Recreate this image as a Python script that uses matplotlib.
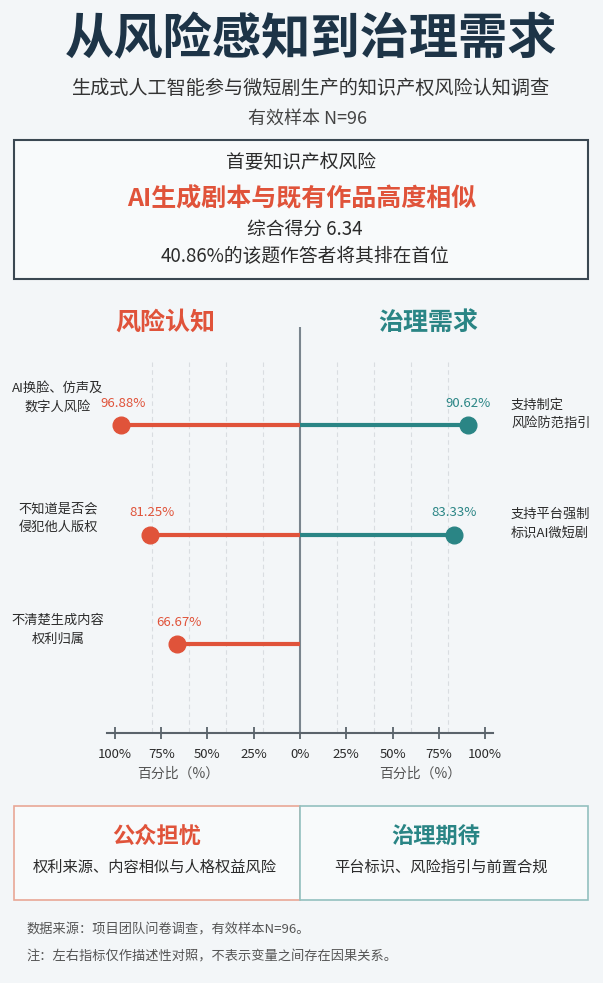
import matplotlib
matplotlib.use('Agg')
import matplotlib.pyplot as plt
import matplotlib.patches as patches
import matplotlib.transforms as mtransforms
import numpy as np

plt.rcParams['font.family'] = ['Noto Sans CJK SC', 'DejaVu Sans']
plt.rcParams['axes.unicode_minus'] = False

# data
risk_labels = ['AI换脸、仿声及\n数字人风险', '不知道是否会\n侵犯他人版权', '不清楚生成内容\n权利归属']
risk_values = [96.88, 81.25, 66.67]
gov_labels = ['支持制定\n风险防范指引', '支持平台强制\n标识AI微短剧']
gov_values = [90.62, 83.33]
tick_values = [-100, -75, -50, -25, 0, 25, 50, 75, 100]
grid_values = [-80, -60, -40, -20, 20, 40, 60, 80]

RED = '#e0533a'
TEAL = '#2a8585'
NAVY = '#1d3447'
BG = '#f3f6f8'
TXT = '#2b2b2b'

W, H = 603, 983
fig = plt.figure(figsize=(W / 100, H / 100), dpi=100, facecolor=BG)

def fx(x):
    return x / W

def fy(y):
    return 1 - y / H

# header
fig.text(fx(311), fy(40), '从风险感知到治理需求', ha='center', va='center',
         fontsize=35.5, fontweight='heavy', color=NAVY)
fig.text(fx(310), fy(88), '生成式人工智能参与微短剧生产的知识产权风险认知调查',
         ha='center', va='center', fontsize=13.8, color='#333333')
fig.text(fx(308), fy(119), '有效样本 N=96', ha='center', va='center',
         fontsize=13, color='#444444')

# key finding box
fig.patches.append(patches.Rectangle((fx(14), fy(279)), fx(588) - fx(14), fy(140) - fy(279),
                                     transform=fig.transFigure, facecolor='#f8fafb',
                                     edgecolor='#3b4852', linewidth=1.5))
fig.text(fx(301), fy(163), '首要知识产权风险', ha='center', va='center', fontsize=13.5, color=TXT)
fig.text(fx(302), fy(199), 'AI生成剧本与既有作品高度相似', ha='center', va='center',
         fontsize=18, fontweight='bold', color=RED)
fig.text(fx(305), fy(229), '综合得分 6.34', ha='center', va='center', fontsize=13.5, color=TXT)
fig.text(fx(305), fy(257), '40.86%的该题作答者将其排在首位', ha='center', va='center',
         fontsize=13.5, color=TXT)

# panel titles
fig.text(fx(165), fy(323), '风险认知', ha='center', va='center', fontsize=18,
         fontweight='bold', color=RED)
fig.text(fx(428), fy(323), '治理需求', ha='center', va='center', fontsize=18,
         fontweight='bold', color=TEAL)

# chart axes
ax_l, ax_r, ax_t, ax_b = 107, 493, 327, 733
ax = fig.add_axes([fx(ax_l), fy(ax_b), fx(ax_r) - fx(ax_l), fy(ax_t) - fy(ax_b)])
ax.set_facecolor('none')
ax.set_xlim(-104.3, 104.3)
row_px = 109.5
y_top = (ax_t - 425) / row_px
y_bot = (ax_b - 425) / row_px
ax.set_ylim(y_bot, y_top)
grid_top = (362 - 425) / row_px

for g in grid_values:
    ax.plot([g, g], [grid_top, y_bot], color='#d9dde1', linewidth=0.8,
            linestyle=(0, (4, 3)), zorder=1)
ax.axvline(0, color='#7a858e', linewidth=1.5, zorder=2)

for i, v in enumerate(risk_values):
    ax.plot([0, -v], [i, i], color=RED, linewidth=3, solid_capstyle='butt', zorder=3)
    ax.plot(-v, i, 'o', color=RED, markersize=12, zorder=4)
    ax.text(-v + 1.5, i - 0.2, f'{v:.2f}%', ha='center', va='center', fontsize=9.5, color=RED)

for i, v in enumerate(gov_values):
    ax.plot([0, v], [i, i], color=TEAL, linewidth=3, solid_capstyle='butt', zorder=3)
    ax.plot(v, i, 'o', color=TEAL, markersize=12, zorder=4)
    ax.text(v, i - 0.2, f'{v:.2f}%', ha='center', va='center', fontsize=9.5, color=TEAL)

trans = mtransforms.blended_transform_factory(ax.transAxes, ax.transData)
lab_x_left = (58 - ax_l) / (ax_r - ax_l)
lab_x_right = (511 - ax_l) / (ax_r - ax_l)
left_offsets = [0.25, 0.15, 0.13]
for i, lab in enumerate(risk_labels):
    ax.text(lab_x_left, i - left_offsets[i], lab, transform=trans, ha='center', va='center',
            fontsize=9.5, color=TXT, linespacing=1.55, clip_on=False)
for i, lab in enumerate(gov_labels):
    ax.text(lab_x_right, i - 0.1, lab, transform=trans, ha='left', va='center',
            fontsize=9.5, color=TXT, linespacing=1.55, clip_on=False)

for s in ['top', 'left', 'right']:
    ax.spines[s].set_visible(False)
ax.spines['bottom'].set_color('#5a636b')
ax.spines['bottom'].set_linewidth(1.5)
ax.set_yticks([])
ax.set_xticks(tick_values)
ax.set_xticklabels([f'{abs(t)}%' for t in tick_values])
ax.tick_params(axis='x', direction='inout', length=9, width=1.3, color='#5a636b',
               labelsize=9.5, labelcolor=TXT, pad=6)

fig.text(fx(178), fy(774), '百分比（%）', ha='center', va='center', fontsize=10, color='#555555')
fig.text(fx(420), fy(774), '百分比（%）', ha='center', va='center', fontsize=10, color='#555555')

# summary boxes
fig.patches.append(patches.Rectangle((fx(14), fy(900)), fx(300) - fx(14), fy(806) - fy(900),
                                     transform=fig.transFigure, facecolor='#f8fafb',
                                     edgecolor='#e9a796', linewidth=1.2))
fig.patches.append(patches.Rectangle((fx(300), fy(900)), fx(588) - fx(300), fy(806) - fy(900),
                                     transform=fig.transFigure, facecolor='#f8fafb',
                                     edgecolor='#93c0bf', linewidth=1.2))
fig.text(fx(157), fy(836), '公众担忧', ha='center', va='center', fontsize=16,
         fontweight='bold', color=RED)
fig.text(fx(155), fy(867), '权利来源、内容相似与人格权益风险', ha='center', va='center',
         fontsize=11, color=TXT)
fig.text(fx(436), fy(836), '治理期待', ha='center', va='center', fontsize=16,
         fontweight='bold', color=TEAL)
fig.text(fx(441), fy(867), '平台标识、风险指引与前置合规', ha='center', va='center',
         fontsize=11, color=TXT)

# notes
fig.text(fx(26), fy(930), '数据来源：项目团队问卷调查，有效样本N=96。', ha='left', va='center',
         fontsize=9.5, color='#555555')
fig.text(fx(26), fy(957), '注：左右指标仅作描述性对照，不表示变量之间存在因果关系。', ha='left',
         va='center', fontsize=9.5, color='#555555')

fig.savefig('out.png', dpi=100, facecolor=BG)
